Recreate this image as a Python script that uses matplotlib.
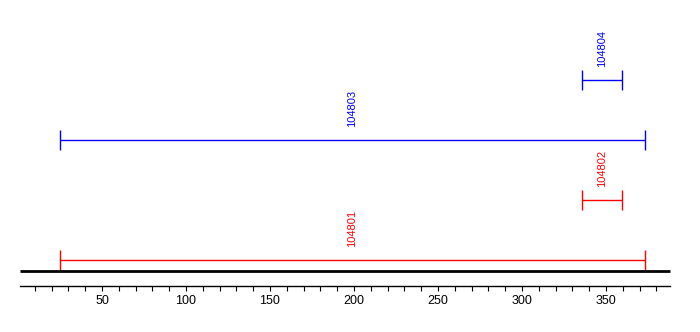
import matplotlib
matplotlib.use("Agg")
import matplotlib.pyplot as plt
from matplotlib.ticker import FixedLocator

# Bars (rows from bottom to top)
barLabels = ["104801", "104802", "104803", "104804"]
barStarts = [25, 336, 25, 336]
barEnds = [373, 359.5, 373, 359.5]
barColors = ["red", "red", "blue", "blue"]
rowIndex = [0, 1, 2, 3]

# Scale ticks
majorTicks = [50, 100, 150, 200, 250, 300, 350]
minorTicks = [v for v in range(10, 390, 10) if v % 50 != 0]

fig = plt.figure(figsize=(7, 3.32), dpi=100)
ax = fig.add_axes([0, 0, 1, 1])
ax.set_xlim(-10.71, 405.95)
ax.set_ylim(-1.2, 4.3333)

capHalf = 1 / 6
for label, x0, x1, col, row in zip(barLabels, barStarts, barEnds, barColors, rowIndex):
    ax.hlines(row, x0, x1, color=col, lw=1)
    ax.vlines([x0, x1], row - capHalf, row + capHalf, color=col, lw=1)
    ax.annotate(label, xy=((x0 + x1) / 2, row), xytext=(0, 9),
                textcoords="offset points", rotation=90, ha="center",
                va="bottom", color=col, fontsize=8, family="Liberation Sans")

# Thick baseline
axisMin, axisMax = 1.19, 388
ax.hlines(-0.1833, axisMin, axisMax, color="black", lw=2)

# Scale axis
for side in ["top", "left", "right"]:
    ax.spines[side].set_visible(False)
ax.spines["bottom"].set_position(("data", -0.4333))
ax.spines["bottom"].set_bounds(axisMin, axisMax)
ax.spines["bottom"].set_linewidth(1)
ax.set_xticks(majorTicks)
ax.xaxis.set_minor_locator(FixedLocator(minorTicks))
ax.tick_params(axis="x", which="both", direction="out", length=3.6, width=0.8,
               pad=3, labelsize=9)
for t in ax.get_xticklabels():
    t.set_family("Liberation Sans")
ax.set_yticks([])

fig.savefig("out.png", dpi=100)
